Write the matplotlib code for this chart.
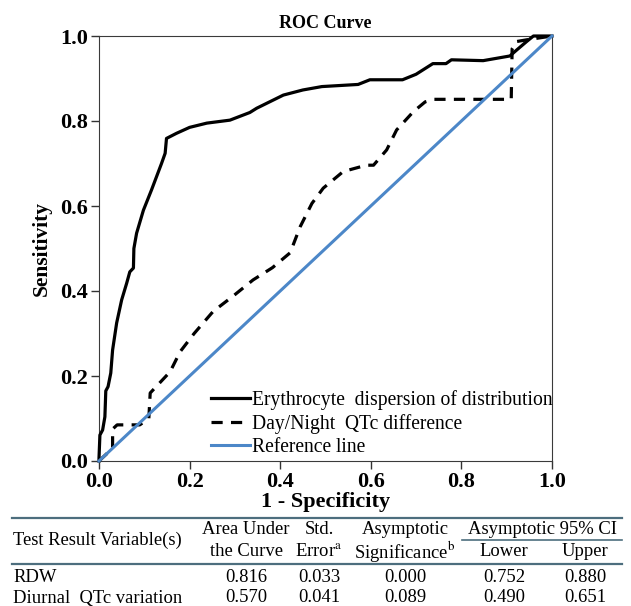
import matplotlib
matplotlib.use('Agg')
import matplotlib.pyplot as plt
from matplotlib.lines import Line2D

plt.rcParams['font.family'] = ['Liberation Serif', 'DejaVu Serif']
plt.rcParams['mathtext.fontset'] = 'stix'

# ROC data
rdw_fpr = [0.0, 0.0, 0.002, 0.008, 0.013, 0.015, 0.02, 0.026, 0.030, 0.039, 0.05, 0.061,
           0.068, 0.076, 0.077, 0.083, 0.098, 0.116, 0.138, 0.146, 0.149, 0.171, 0.20,
           0.238, 0.289, 0.333, 0.348, 0.407, 0.45, 0.492, 0.572, 0.598, 0.67, 0.70,
           0.737, 0.766, 0.778, 0.848, 0.907, 0.922, 0.944, 0.959, 1.0]
rdw_tpr = [0.0, 0.007, 0.061, 0.073, 0.104, 0.165, 0.175, 0.207, 0.261, 0.325, 0.379, 0.418,
           0.445, 0.454, 0.50, 0.536, 0.59, 0.638, 0.70, 0.724, 0.759, 0.771, 0.785,
           0.795, 0.802, 0.82, 0.83, 0.861, 0.873, 0.881, 0.886, 0.897, 0.897, 0.91,
           0.935, 0.935, 0.944, 0.942, 0.953, 0.967, 0.987, 1.0, 1.0]

qtc_fpr = [0.0, 0.03, 0.03, 0.04, 0.09, 0.11, 0.113, 0.157, 0.179, 0.21, 0.252, 0.296,
           0.34, 0.383, 0.422, 0.444, 0.47, 0.495, 0.539, 0.59, 0.606, 0.635, 0.657,
           0.694, 0.72, 0.74, 0.91, 0.912, 0.922, 0.944, 1.0]
qtc_tpr = [0.0, 0.03, 0.075, 0.085, 0.085, 0.10, 0.16, 0.21, 0.257, 0.30, 0.352, 0.388,
           0.426, 0.455, 0.49, 0.551, 0.606, 0.642, 0.681, 0.696, 0.696, 0.732, 0.779,
           0.822, 0.845, 0.851, 0.851, 0.97, 0.987, 0.991, 1.0]

ref = [0.0, 1.0]
ticks = [0.0, 0.2, 0.4, 0.6, 0.8, 1.0]

# table contents
row_names = ['RDW', 'Diurnal  QTc variation']
auc = ['0.816', '0.570']
std_err = ['0.033', '0.041']
asym_sig = ['0.000', '0.089']
ci_lower = ['0.752', '0.490']
ci_upper = ['0.880', '0.651']

W, H = 631, 606
fig = plt.figure(figsize=(W / 100, H / 100), dpi=100)
ax = fig.add_axes([99 / W, 1 - 461 / H, 453 / W, 425 / H])

ax.plot(rdw_fpr, rdw_tpr, color='black', lw=2.3, solid_joinstyle='round',
        label='Erythrocyte  dispersion of distribution', clip_on=False, zorder=3)
ax.plot(qtc_fpr, qtc_tpr, color='black', lw=2.3, dashes=(3.5, 2.6),
        label='Day/Night  QTc difference', clip_on=False, zorder=3)
ax.plot(ref, ref, color='#4c87c8', lw=2.2, label='Reference line', clip_on=False, zorder=4)

ax.set_xlim(0, 1)
ax.set_ylim(0, 1)
ax.set_xticks(ticks)
ax.set_yticks(ticks)
ax.set_xticklabels([f'{t:.1f}' for t in ticks], fontweight='bold', fontsize=16)
ax.set_yticklabels([f'{t:.1f}' for t in ticks], fontweight='bold', fontsize=16)
ax.tick_params(direction='out', length=6, width=1, color='#333333', pad=2)
for sp in ax.spines.values():
    sp.set_color('#3a3a3a')
    sp.set_linewidth(0.8)

ax.set_title('ROC Curve', fontweight='bold', fontsize=13, pad=6)
ax.set_xlabel('1 - Specificity', fontweight='bold', fontsize=16, labelpad=0)
ax.set_ylabel('Sensitivity', fontweight='bold', fontsize=15.5, labelpad=6)

ax.legend(loc='lower left', bbox_to_anchor=(0.238, 0.0), frameon=False,
          fontsize=14.1, handlelength=2.0, handletextpad=0.12, labelspacing=0.22,
          borderaxespad=0.1, borderpad=0.1)

# table under the chart
def fx(px):
    return px / W

def fy(py):
    return 1 - py / H

line_col = '#4d6e7e'
fig.add_artist(Line2D([fx(12), fx(622)], [fy(518), fy(518)], color=line_col, lw=1.6,
                      transform=fig.transFigure))
fig.add_artist(Line2D([fx(462), fx(622)], [fy(540), fy(540)], color=line_col, lw=1.2,
                      transform=fig.transFigure))
fig.add_artist(Line2D([fx(12), fx(622)], [fy(564), fy(564)], color=line_col, lw=1.6,
                      transform=fig.transFigure))

fs = 13.4
fig.text(fx(13), fy(540), 'Test Result Variable(s)', fontsize=fs, ha='left', va='center')
fig.text(fx(246), fy(529), 'Area Under', fontsize=fs, ha='center', va='center')
fig.text(fx(246), fy(552), 'the Curve', fontsize=fs, ha='center', va='center')
fig.text(fx(319), fy(529), 'Std.', fontsize=fs, ha='center', va='center')
fig.text(fx(319), fy(552), r'Error$^{\mathrm{a}}$', fontsize=fs, ha='center', va='center')
fig.text(fx(405), fy(529), 'Asymptotic', fontsize=fs, ha='center', va='center')
fig.text(fx(405), fy(552), r'Significance$^{\mathrm{b}}$', fontsize=fs, ha='center', va='center')
fig.text(fx(543), fy(529), 'Asymptotic 95% CI', fontsize=fs, ha='center', va='center')
fig.text(fx(504), fy(552), 'Lower', fontsize=fs, ha='center', va='center')
fig.text(fx(585), fy(552), 'Upper', fontsize=fs, ha='center', va='center')

row_y = [577, 598]
for i, name in enumerate(row_names):
    y = fy(row_y[i])
    fig.text(fx(13), y, name, fontsize=fs, ha='left', va='center')
    fig.text(fx(246), y, auc[i], fontsize=fs, ha='center', va='center')
    fig.text(fx(319), y, std_err[i], fontsize=fs, ha='center', va='center')
    fig.text(fx(405), y, asym_sig[i], fontsize=fs, ha='center', va='center')
    fig.text(fx(504), y, ci_lower[i], fontsize=fs, ha='center', va='center')
    fig.text(fx(585), y, ci_upper[i], fontsize=fs, ha='center', va='center')

fig.savefig('out.png', dpi=100)
